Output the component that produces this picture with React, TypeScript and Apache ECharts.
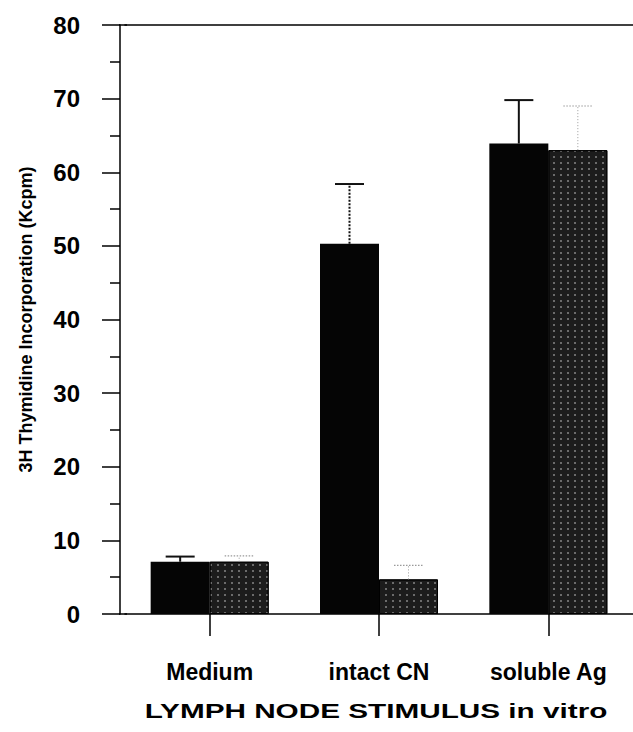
import React, { useEffect, useRef } from "react";
import * as echarts from "echarts";

const categories = ["Medium", "intact CN", "soluble Ag"];
const solidMeans = [7.1, 50.3, 63.9];
const solidUpper = [7.8, 58.4, 69.8];
const dottedMeans = [7.1, 4.7, 63.0];
const dottedUpper = [7.9, 6.6, 69.0];
const yTicks = { min: 0, max: 80, interval: 10 };

const yTitle = "3H Thymidine Incorporation (Kcpm)";
const xTitle = "LYMPH NODE STIMULUS in vitro";

const BAR_W = 59;
const CAP_W = 29;
const FONT = "'Liberation Sans', Arial, Helvetica, sans-serif";

function errorSeries(means: number[], upper: number[], side: number, dotted: boolean) {
  return {
    type: "custom",
    coordinateSystem: "cartesian2d",
    silent: true,
    z: 5,
    data: categories.map((_, i) => [i, means[i], upper[i]]),
    encode: { x: 0, y: [1, 2] },
    renderItem: (params: any, api: any) => {
      const idx = api.value(0);
      const base = api.coord([idx, api.value(1)]);
      const top = api.coord([idx, api.value(2)]);
      const x = base[0] + (side * BAR_W) / 2;
      const stemDash = dotted ? [1, 2] : idx === 1 ? [2, 1.5] : null;
      const color = dotted ? "#9a9a9a" : "#111";
      return {
        type: "group",
        children: [
          {
            type: "line",
            shape: { x1: x, y1: base[1], x2: x, y2: top[1] },
            style: { stroke: color, lineWidth: dotted ? 1 : 2, lineDash: stemDash },
          },
          {
            type: "line",
            shape: { x1: x - CAP_W / 2, y1: top[1], x2: x + CAP_W / 2, y2: top[1] },
            style: { stroke: color, lineWidth: dotted ? 1.2 : 2, lineDash: dotted ? [1.5, 1.5] : null },
          },
        ],
      };
    },
  };
}

export default function App() {
  const ref = useRef<HTMLDivElement>(null);
  useEffect(() => {
    document.body.style.margin = "0";
    const chart = echarts.init(ref.current!, null, { renderer: "svg" });
    chart.setOption({
      animation: false,
      backgroundColor: "#ffffff",
      grid: { left: 125, right: -7, top: 25, bottom: 118, containLabel: false },
      xAxis: [
        {
          type: "category",
          data: categories,
          position: "bottom",
          boundaryGap: true,
          axisLine: { show: true, lineStyle: { color: "#000", width: 1.5 } },
          axisTick: { show: true, alignWithLabel: true, length: 22, lineStyle: { color: "#000", width: 1.5 } },
          axisLabel: {
            margin: 46,
            fontFamily: FONT,
            fontWeight: "bold",
            fontSize: 23,
            color: "#000",
          },
        },
        {
          type: "category",
          data: categories,
          position: "top",
          axisLine: { show: true, lineStyle: { color: "#000", width: 1.5 } },
          axisTick: { show: false },
          axisLabel: { show: false },
        },
      ],
      yAxis: {
        type: "value",
        min: yTicks.min,
        max: yTicks.max,
        interval: yTicks.interval,
        offset: 5,
        name: yTitle,
        nameLocation: "middle",
        nameGap: 85,
        nameTextStyle: { fontFamily: FONT, fontWeight: "bold", fontSize: 18, color: "#000" },
        axisLine: { show: true, lineStyle: { color: "#000", width: 1.5 } },
        axisTick: { show: true, length: 18, lineStyle: { color: "#000", width: 1.5 } },
        minorTick: { show: true, splitNumber: 2, length: 10, lineStyle: { color: "#000", width: 1.5 } },
        splitLine: { show: false },
        axisLabel: { margin: 40, fontFamily: FONT, fontWeight: "bold", fontSize: 24, color: "#000" },
      },
      series: [
        {
          type: "bar",
          data: solidMeans,
          barWidth: BAR_W,
          barGap: "0%",
          itemStyle: { color: "#050505" },
          z: 2,
        },
        {
          type: "bar",
          data: dottedMeans,
          barWidth: BAR_W,
          barGap: "0%",
          itemStyle: {
            color: "#1c1c1c",
            borderColor: "#000",
            borderWidth: 1,
            decal: {
              symbol: "rect",
              symbolSize: 1,
              color: "rgba(255,255,255,0.35)",
              dashArrayX: [1.6, 4.4],
              dashArrayY: [1.6, 4],
              rotation: 0,
            },
          },
          z: 2,
        },
        errorSeries(solidMeans, solidUpper, -1, false),
        errorSeries(dottedMeans, dottedUpper, 1, true),
      ],
      graphic: [
        {
          type: "line",
          shape: { x1: 119, y1: 25, x2: 127, y2: 25 },
          style: { stroke: "#000", lineWidth: 1.5 },
        },
        {
          type: "line",
          shape: { x1: 119, y1: 614, x2: 127, y2: 614 },
          style: { stroke: "#000", lineWidth: 1.5 },
        },
        {
          type: "text",
          x: 376,
          y: 711,
          scaleX: 1.45,
          style: {
            text: xTitle,
            fontFamily: FONT,
            fontSize: 20.5,
            fontWeight: "bold",
            fill: "#000",
            textAlign: "center",
            textVerticalAlign: "middle",
          },
        },
      ],
    });
    return () => chart.dispose();
  }, []);
  return <div ref={ref} style={{ width: 633, height: 732 }} />;
}
